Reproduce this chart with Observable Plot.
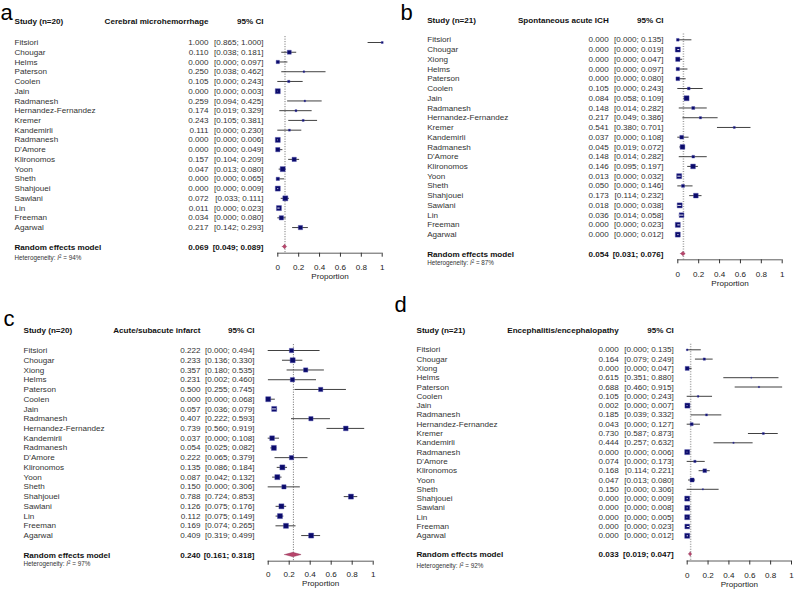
<!DOCTYPE html>
<html>
<head>
<meta charset="utf-8">
<script src="https://cdn.jsdelivr.net/npm/d3@7"></script>
<script src="https://cdn.jsdelivr.net/npm/@observablehq/plot@0.6"></script>
<style>
  body { margin: 0; background: #fff; }
  #wrap { position: relative; width: 794px; height: 590px; overflow: hidden; background: #fff; }
  .panel { position: absolute; width: 397px; height: 295px; }
</style>
</head>
<body>
<div id="wrap"></div>
<script>
// ---------------- DATA ----------------
const propTicks = [0, 0.2, 0.4, 0.6, 0.8, 1];
const axisTitle = "Proportion";
const reLabel = "Random effects model";
const ciHeader = "95% CI";

// Panel a – Cerebral microhemorrhage
const letterA = "a";
const studyHeaderA = "Study (n=20)";
const outcomeA = "Cerebral microhemorrhage";
const studiesA = ["Fitsiori","Chougar","Helms","Paterson","Coolen","Jain","Radmanesh","Hernandez-Fernandez","Kremer","Kandemirli","Radmanesh","D'Amore","Klironomos","Yoon","Sheth","Shahjouei","Sawlani","Lin","Freeman","Agarwal"];
const estA = [1.000,0.110,0.000,0.250,0.105,0.000,0.259,0.174,0.243,0.111,0.000,0.000,0.157,0.047,0.000,0.000,0.072,0.011,0.034,0.217];
const loA  = [0.865,0.038,0.000,0.038,0.000,0.000,0.094,0.019,0.105,0.000,0.000,0.000,0.104,0.013,0.000,0.000,0.033,0.000,0.000,0.142];
const hiA  = [1.000,0.181,0.097,0.462,0.243,0.003,0.425,0.329,0.381,0.230,0.006,0.049,0.209,0.080,0.065,0.009,0.111,0.023,0.080,0.293];
const weightA = [1.4,5.5,3.8,1.0,1.8,8.7,1.0,1.4,1.4,1.4,8.7,6.4,6.4,8.7,3.8,8.7,8.7,8.7,6.4,6.4];
const reA = [0.069, 0.049, 0.089];
const hetA = "Heterogeneity: I² = 94%";

// Panel b – Spontaneous acute ICH
const letterB = "b";
const studyHeaderB = "Study (n=21)";
const outcomeB = "Spontaneous acute ICH";
const studiesB = ["Fitsiori","Chougar","Xiong","Helms","Paterson","Coolen","Jain","Radmanesh","Hernandez-Fernandez","Kremer","Kandemirli","Radmanesh","D'Amore","Klironomos","Yoon","Sheth","Shahjouei","Sawlani","Lin","Freeman","Agarwal"];
const estB = [0.000,0.000,0.000,0.000,0.000,0.105,0.084,0.148,0.217,0.541,0.037,0.045,0.148,0.146,0.013,0.050,0.173,0.018,0.036,0.000,0.000];
const loB  = [0.000,0.000,0.000,0.000,0.000,0.000,0.058,0.014,0.049,0.380,0.000,0.019,0.014,0.095,0.000,0.000,0.114,0.000,0.014,0.000,0.000];
const hiB  = [0.135,0.019,0.047,0.097,0.080,0.243,0.109,0.282,0.386,0.701,0.108,0.072,0.282,0.197,0.032,0.146,0.232,0.038,0.058,0.023,0.012];
const weightB = [2.1,7.3,5.4,3.2,4.0,2.1,7.3,2.6,1.5,1.2,4.0,6.4,2.1,6.4,7.3,2.6,6.4,7.3,6.4,7.3,7.3];
const reB = [0.054, 0.031, 0.076];
const hetB = "Heterogeneity: I² = 87%";

// Panel c – Acute/subacute infarct
const letterC = "c";
const studyHeaderC = "Study (n=20)";
const outcomeC = "Acute/subacute infarct";
const studiesC = ["Fitsiori","Chougar","Xiong","Helms","Paterson","Coolen","Jain","Radmanesh","Hernandez-Fernandez","Kandemirli","Radmanesh","D'Amore","Klironomos","Yoon","Sheth","Shahjouei","Sawlani","Lin","Freeman","Agarwal"];
const estC = [0.222,0.233,0.357,0.231,0.500,0.000,0.057,0.407,0.739,0.037,0.054,0.222,0.135,0.087,0.150,0.788,0.126,0.112,0.169,0.409];
const loC  = [0.000,0.136,0.180,0.002,0.255,0.000,0.036,0.222,0.560,0.000,0.025,0.065,0.086,0.042,0.000,0.724,0.075,0.075,0.074,0.319];
const hiC  = [0.494,0.330,0.535,0.460,0.745,0.068,0.079,0.593,0.919,0.108,0.082,0.379,0.184,0.132,0.306,0.853,0.176,0.149,0.265,0.499];
const weightC = [4.1,5.6,4.1,4.1,4.1,5.6,5.6,4.1,4.9,4.9,5.6,4.1,5.6,5.6,4.1,5.6,5.6,5.6,5.6,5.6];
const reC = [0.240, 0.161, 0.318];
const hetC = "Heterogeneity: I² = 97%";

// Panel d – Encephalitis/encephalopathy
const letterD = "d";
const studyHeaderD = "Study (n=21)";
const outcomeD = "Encephalitis/encephalopathy";
const studiesD = ["Fitsiori","Chougar","Xiong","Helms","Paterson","Coolen","Jain","Radmanesh","Hernandez-Fernandez","Kremer","Kandemirli","Radmanesh","D'Amore","Klironomos","Yoon","Sheth","Shahjouei","Sawlani","Lin","Freeman","Agarwal"];
const estD = [0.000,0.164,0.000,0.615,0.688,0.105,0.002,0.185,0.043,0.730,0.444,0.000,0.074,0.168,0.047,0.150,0.000,0.000,0.000,0.000,0.000];
const loD  = [0.000,0.079,0.000,0.351,0.460,0.000,0.000,0.039,0.000,0.587,0.257,0.000,0.000,0.114,0.013,0.000,0.000,0.000,0.000,0.000,0.000];
const hiD  = [0.135,0.249,0.047,0.880,0.915,0.243,0.007,0.332,0.127,0.873,0.632,0.006,0.173,0.221,0.080,0.306,0.009,0.008,0.005,0.023,0.012];
const weightD = [1.1,2.1,6.2,0.4,0.7,1.1,9.7,1.6,3.5,1.6,0.7,9.7,2.1,5.3,6.2,0.7,9.7,9.7,9.7,8.6,9.7];
const reD = [0.033, 0.019, 0.047];
const hetD = "Heterogeneity: I² = 92%";

// ---------------- LAYOUT / STYLE ----------------
const PW = 397, PH = 295;
const BOX_MAX = 5;          // px side of largest square
const DIAMOND_HALF = 2.2;   // px half-height of diamond
const FONT = "'Liberation Sans', Arial, Helvetica, sans-serif";
const LETTER_SIZE = 22;

const layouts = [
  {left: 0,   top: 0,   x0: 277.3, x1: 381.7, nameX: 14,   estR: 208,   ciR: 263,   headerY: 21, row0: 42,   step: 9.74, axisY: 252.7, hetY: 257.5, tickY: 266.7, propY: 275.7, letterX: 0,  letterY: 19.5, refStroke: "#444", refWidth: 0.8},
  {left: 397, top: 0,   x0: 280.3, x1: 384.7, nameX: 29.7, estR: 211.3, ciR: 266,   headerY: 20, row0: 39.3, step: 9.74, axisY: 259.3, hetY: 262.5, tickY: 273.3, propY: 282.7, letterX: 3,  letterY: 19.5, refStroke: "#a0a0a0", refWidth: 1.5},
  {left: 0,   top: 295, x0: 267.7, x1: 372.7, nameX: 23,   estR: 200,   ciR: 254,   headerY: 35, row0: 55,   step: 9.74, axisY: 265.7, hetY: 268.5, tickY: 279,   propY: 288,   letterX: 3,  letterY: 30, refStroke: "#444", refWidth: 0.8},
  {left: 397, top: 295, x0: 289.7, x1: 394,   nameX: 19,   estR: 221.3, ciR: 276.3, headerY: 35, row0: 54.3, step: 9.3,  axisY: 265.5, hetY: 270.7, tickY: 279.3, propY: 289.3, letterX: -3, letterY: 16, refStroke: "#a0a0a0", refWidth: 1.5}
];

const panels = [
  {letter: letterA, studyHeader: studyHeaderA, outcome: outcomeA, studies: studiesA, est: estA, lo: loA, hi: hiA, weight: weightA, re: reA, het: hetA},
  {letter: letterB, studyHeader: studyHeaderB, outcome: outcomeB, studies: studiesB, est: estB, lo: loB, hi: hiB, weight: weightB, re: reB, het: hetB},
  {letter: letterC, studyHeader: studyHeaderC, outcome: outcomeC, studies: studiesC, est: estC, lo: loC, hi: hiC, weight: weightC, re: reC, het: hetC},
  {letter: letterD, studyHeader: studyHeaderD, outcome: outcomeD, studies: studiesD, est: estD, lo: loD, hi: hiD, weight: weightD, re: reD, het: hetD}
];

const fmt = d3.format(".3f");
const ciText = (l, h) => `[${fmt(l)}; ${fmt(h)}]`;

function forest(L, P) {
  const n = P.studies.length;
  const rows = P.studies.map((s, i) => ({i, name: s, est: P.est[i], lo: P.lo[i], hi: P.hi[i], w: P.weight[i]}));
  const reRow = n + 1;
  const axisRow = (L.axisY - L.row0) / L.step;
  const axisPx = L.x1 - L.x0;
  const wmax = d3.max(rows, d => d.w);
  const boxSide = w => Math.sqrt(w / wmax) * BOX_MAX;
  const inner = rows.filter(d => (d.hi - d.lo) * axisPx < boxSide(d.w));
  const h = DIAMOND_HALF / L.step;
  const dia = [
    {x: P.re[1], y1: reRow, y2: reRow},
    {x: P.re[0], y1: reRow - h, y2: reRow + h},
    {x: P.re[2], y1: reRow, y2: reRow}
  ];
  const dx = px => px - L.x0;
  const tickPad = L.tickY - L.axisY - 4 - 2.9;

  return Plot.plot({
    width: PW, height: PH,
    marginLeft: L.x0, marginRight: PW - L.x1,
    marginTop: L.headerY, marginBottom: PH - L.axisY,
    style: {fontFamily: FONT, fontSize: "8.1px", overflow: "visible", background: "transparent", color: "#222"},
    x: {domain: [0, 1], axis: null},
    y: {domain: [0, reRow], range: [L.row0, L.row0 + reRow * L.step], axis: null},
    r: {type: "sqrt", domain: [0, wmax], range: [0, BOX_MAX / Math.sqrt(Math.PI)]},
    marks: [
      Plot.ruleX([P.re[0]], {x: d => d, y1: -0.6, y2: axisRow, stroke: L.refStroke, strokeWidth: L.refWidth, strokeDasharray: "1,1.5"}),
      Plot.ruleY(rows, {y: "i", x1: "lo", x2: "hi", stroke: "#2b2b2b", strokeWidth: 0.9}),
      Plot.dot(rows, {x: "est", y: "i", r: "w", symbol: "square", fill: "#0b0b6b", stroke: "#4a4aa8", strokeWidth: 0.4}),
      Plot.ruleY(inner, {y: "i", x1: "lo", x2: "hi", stroke: "white", strokeWidth: 0.9}),
      Plot.areaY(dia, {x: "x", y1: "y1", y2: "y2", fill: "#b8456b", stroke: "#8c2a50", strokeWidth: 0.4}),
      Plot.ruleY([axisRow], {x1: propTicks[0], x2: propTicks[propTicks.length - 1], stroke: "#333", strokeWidth: 0.8}),
      Plot.axisX(propTicks, {anchor: "bottom", tickSize: 4, tickPadding: tickPad, tickFormat: d => String(d), label: null, color: "#222", stroke: "#333"}),
      Plot.text([axisTitle], {frameAnchor: "bottom", dy: L.propY - L.axisY, lineAnchor: "middle", fill: "#222"}),
      // header
      Plot.text([P.studyHeader], {frameAnchor: "top-left", dx: dx(L.nameX), lineAnchor: "middle", textAnchor: "start", fontWeight: "bold", fill: "#111"}),
      Plot.text([P.outcome], {frameAnchor: "top-left", dx: dx(L.estR), lineAnchor: "middle", textAnchor: "end", fontWeight: "bold", fill: "#111"}),
      Plot.text([ciHeader], {frameAnchor: "top-left", dx: dx(L.ciR), lineAnchor: "middle", textAnchor: "end", fontWeight: "bold", fill: "#111"}),
      // study rows
      Plot.text(rows, {y: "i", text: "name", frameAnchor: "left", dx: dx(L.nameX), textAnchor: "start", fill: "#333"}),
      Plot.text(rows, {y: "i", text: d => fmt(d.est), frameAnchor: "left", dx: dx(L.estR), textAnchor: "end", fill: "#333"}),
      Plot.text(rows, {y: "i", text: d => ciText(d.lo, d.hi), frameAnchor: "left", dx: dx(L.ciR), textAnchor: "end", fill: "#333"}),
      // pooled row
      Plot.text([reLabel], {y: reRow, frameAnchor: "left", dx: dx(L.nameX), textAnchor: "start", fontWeight: "bold", fill: "#111"}),
      Plot.text([fmt(P.re[0])], {y: reRow, frameAnchor: "left", dx: dx(L.estR), textAnchor: "end", fontWeight: "bold", fill: "#111"}),
      Plot.text([ciText(P.re[1], P.re[2])], {y: reRow, frameAnchor: "left", dx: dx(L.ciR), textAnchor: "end", fontWeight: "bold", fill: "#111"}),
      Plot.text([P.het], {frameAnchor: "bottom-left", dx: dx(L.nameX), dy: L.hetY - L.axisY, lineAnchor: "middle", textAnchor: "start", fontSize: 6.3, fill: "#333"}),
      // panel letter
      Plot.text([P.letter], {frameAnchor: "top-left", dx: dx(L.letterX), dy: L.letterY - 0.32 * LETTER_SIZE - L.headerY, lineAnchor: "middle", textAnchor: "start", fontSize: LETTER_SIZE, fontFamily: FONT, fill: "#000"})
    ]
  });
}

const wrap = document.getElementById("wrap");
panels.forEach((P, k) => {
  const L = layouts[k];
  const div = document.createElement("div");
  div.className = "panel";
  div.style.left = L.left + "px";
  div.style.top = L.top + "px";
  const svg = forest(L, P);
  div.appendChild(svg);
  wrap.appendChild(div);
  // italic I with superscript 2 in the heterogeneity line
  d3.select(svg).selectAll("text").filter(function () { return this.textContent === P.het; }).each(function () {
    const t = d3.select(this);
    const parts = P.het.split("I²");
    t.text(null);
    t.append("tspan").text(parts[0]);
    t.append("tspan").attr("font-style", "italic").text("I");
    t.append("tspan").attr("dy", -2.4).attr("font-size", 4.5).text("2");
    t.append("tspan").attr("dy", 2.4).text(parts[1]);
  });
});
</script>
</body>
</html>
